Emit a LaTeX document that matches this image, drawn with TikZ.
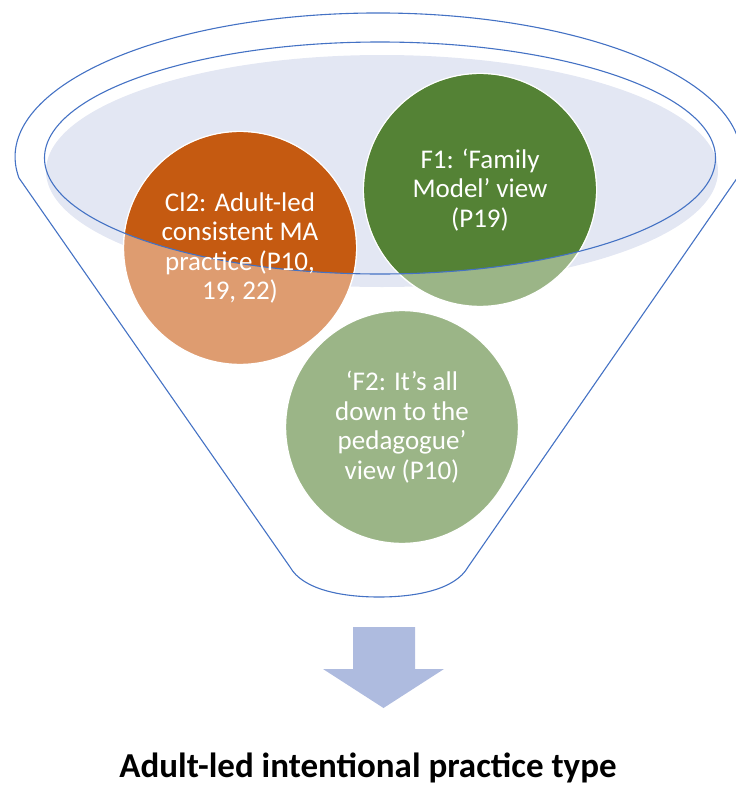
\documentclass[tikz,border=0pt]{standalone}
\usepackage{fontspec}
\setmainfont{Carlito}
\begin{document}
\definecolor{funnelblue}{RGB}{68,114,196}
\definecolor{surface}{RGB}{227,231,243}
\definecolor{orangedark}{RGB}{197,90,17}
\definecolor{orangelight}{RGB}{222,156,112}
\definecolor{greendark}{RGB}{84,130,53}
\definecolor{greenlight}{RGB}{155,181,135}
\definecolor{arrowfill}{RGB}{174,187,223}
\begin{tikzpicture}[x=1pt,y=-1pt,
  outline/.style={draw=funnelblue,line width=1.1pt},
  ball/.style={circle,draw=white,line width=1.4pt,minimum size=233pt,inner sep=0pt},
  balltext/.style={text=white,align=center,font=\fontsize{27}{29.5}\selectfont},
  title/.style={font=\fontsize{35}{40}\selectfont\bfseries}]
\useasboundingbox (0,0) rectangle (736,787);

% funnel body: rim arc, straight sides and rounded spout
\coordinate (lc) at (19,178);
\coordinate (rc) at (737,178);
\coordinate (lb) at (290,567);
\coordinate (rb) at (468,567);
\coordinate (bot) at (379,597);
\draw[outline] (lc) arc[start angle=188.4,end angle=-8.4,x radius=363pt,y radius=144pt]
  -- (rb) .. controls (455,590) and (415,597) .. (bot)
  .. controls (343,597) and (303,590) .. (lb) -- cycle;

% liquid surface
\fill[surface] (382,171) ellipse[x radius=336pt,y radius=116pt];

% the three balls, pale where they sit below the rim
\node[ball,fill=orangelight] (cl2) at (240,248) {};
\node[ball,fill=greenlight] (f1) at (480,190) {};
\node[ball,fill=greenlight] (f2) at (402,427) {};

% full colour inside the rim
\begin{scope}
  \clip (380,158) ellipse[x radius=335.5pt,y radius=116pt];
  \fill[orangedark] (cl2.center) circle[radius=115.8pt];
  \fill[greendark] (f1.center) circle[radius=115.8pt];
\end{scope}

% rim
\draw[outline] (380,158) ellipse[x radius=335.5pt,y radius=116pt];

% labels
\node[balltext] (cl2t) at (cl2.center) {Cl2: Adult-led\\consistent MA\\practice (P10,\\19, 22)};
\node[balltext] (f1t) at (f1.center) {F1: ‘Family\\Model’ view\\(P19)};
\node[balltext] (f2t) at (f2.center) {‘F2: It’s all\\down to the\\pedagogue’\\view (P10)};

% down arrow
\fill[arrowfill] (353,627) -- (415,627) -- (415,669) -- (444,669) -- (383.5,708)
  -- (323,669) -- (353,669) -- cycle;
\coordinate (arrowtip) at (383.5,708);

% result
\node[title,anchor=base] (result) at (368,777) {Adult-led intentional practice type};
\end{tikzpicture}
\end{document}
